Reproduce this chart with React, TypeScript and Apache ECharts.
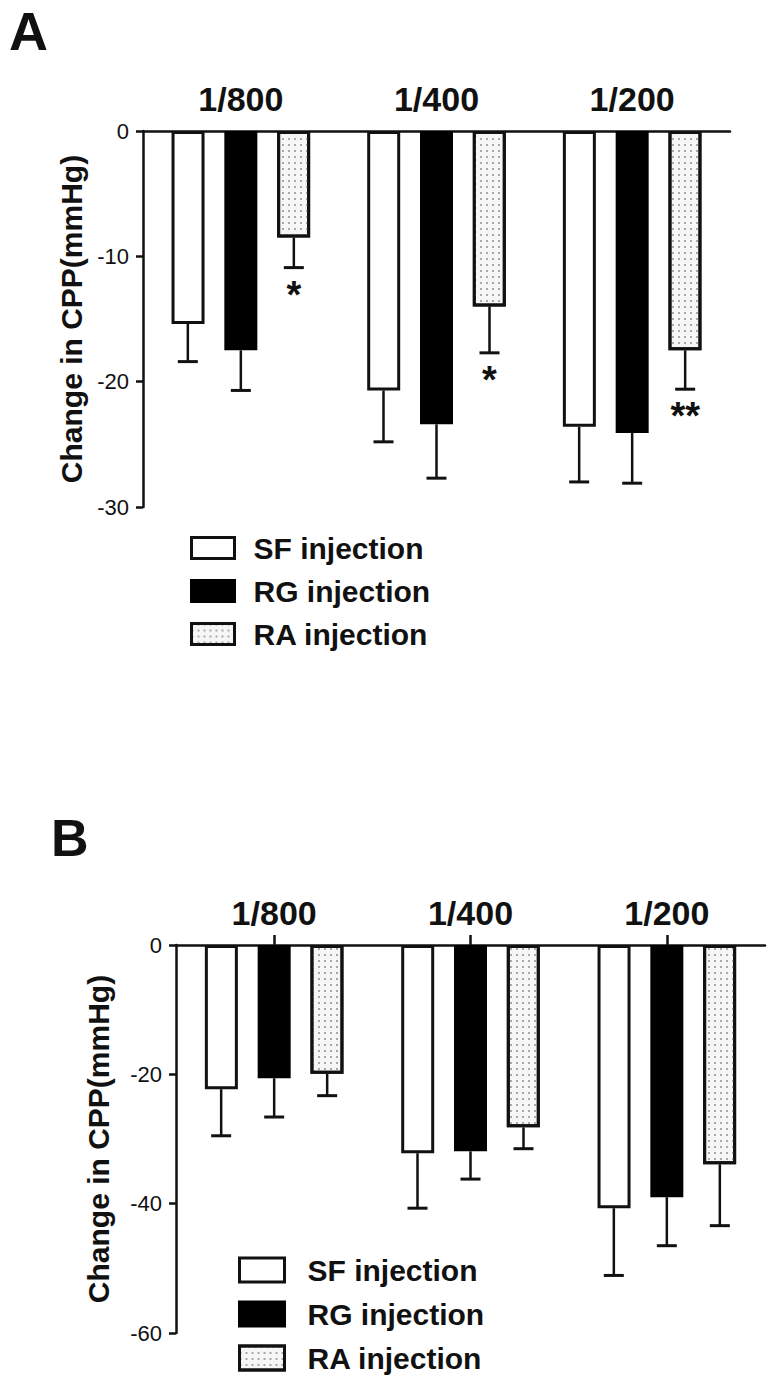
import React, { useEffect, useRef } from "react";
import * as echarts from "echarts";

const categories = ["1/800", "1/400", "1/200"];
const seriesNames = ["SF injection", "RG injection", "RA injection"];

// Panel A (y range -30..0)
const aSF = [-15.4, -20.7, -23.6];
const aSFErr = [3.0, 4.1, 4.4];
const aRG = [-17.5, -23.4, -24.1];
const aRGErr = [3.2, 4.3, 4.0];
const aRA = [-8.5, -14.0, -17.5];
const aRAErr = [2.4, 3.7, 3.1];
const aRASig = ["*", "*", "**"];

// Panel B (y range -60..0)
const bSF = [-22.3, -32.2, -40.7];
const bSFErr = [7.2, 8.5, 10.4];
const bRG = [-20.6, -31.9, -39.0];
const bRGErr = [6.0, 4.3, 7.5];
const bRA = [-19.9, -28.2, -33.9];
const bRAErr = [3.4, 3.3, 9.5];
const bRASig = ["", "", ""];

const yLabel = "Change in CPP(mmHg)";
const FONT = "'Liberation Sans', Arial, Helvetica, sans-serif";
const INK = "#111";

const decal = {
  symbol: "rect",
  symbolSize: 1,
  dashArrayX: [2, 4],
  dashArrayY: [2, 4],
  color: "#a8a8a8",
  rotation: 0,
};

const barStyles = [
  { color: "#ffffff", borderColor: INK, borderWidth: 3 },
  { color: "#000000", borderColor: "#000", borderWidth: 3 },
  { color: "#f6f6f6", borderColor: INK, borderWidth: 3, decal },
];

const BAR_W = 33;
const BAR_STEP = 53;

function errSeries(
  name: string,
  means: number[],
  errs: number[],
  sig: string[],
  idx: number,
  axisIdx: number
) {
  const offset = (idx - 1) * BAR_STEP;
  return {
    type: "custom",
    name: name + " err",
    xAxisIndex: axisIdx,
    yAxisIndex: axisIdx,
    z: 5,
    silent: true,
    data: means.map((m, i) => [i, m, errs[i], sig[i] || ""]),
    renderItem: (params: any, api: any) => {
      const ci = api.value(0);
      const m = api.value(1);
      const e = api.value(2);
      const s = sig[ci] || "";
      const p0 = api.coord([ci, m]);
      const p1 = api.coord([ci, m - e]);
      const cx = p0[0] + offset;
      const children: any[] = [
        {
          type: "line",
          shape: { x1: cx, y1: p0[1], x2: cx, y2: p1[1] },
          style: { stroke: INK, lineWidth: 2.5 },
        },
        {
          type: "line",
          shape: { x1: cx - 10, y1: p1[1], x2: cx + 10, y2: p1[1] },
          style: { stroke: INK, lineWidth: 3 },
        },
      ];
      if (s) {
        children.push({
          type: "text",
          x: cx,
          y: p1[1] + 8,
          style: {
            text: s,
            fill: INK,
            font: `bold 38px ${FONT}`,
            textAlign: "center",
            textVerticalAlign: "top",
          },
        });
      }
      return { type: "group", children };
    },
  };
}

function barSeries(name: string, data: number[], idx: number, axisIdx: number) {
  return {
    type: "bar",
    name,
    xAxisIndex: axisIdx,
    yAxisIndex: axisIdx,
    data,
    barWidth: BAR_W,
    barGap: "60%",
    itemStyle: barStyles[idx],
    z: 2,
  };
}

function xAxisDef(gridIndex: number, showTick: boolean) {
  return {
    type: "category",
    gridIndex,
    data: categories,
    position: "top",
    axisLine: { show: true, onZero: false, lineStyle: { color: INK, width: 2.5 } },
    axisTick: { show: showTick, alignWithLabel: true, length: 10, lineStyle: { color: INK, width: 2.5 } },
    axisLabel: {
      color: INK,
      fontSize: 34,
      fontWeight: "bold",
      fontFamily: FONT,
      margin: 15,
    },
    splitLine: { show: false },
  };
}

function yAxisDef(gridIndex: number, min: number, interval: number, nameGap: number) {
  return {
    type: "value",
    gridIndex,
    min,
    max: 0,
    interval,
    name: yLabel,
    nameLocation: "middle",
    nameGap,
    nameTextStyle: { color: INK, fontSize: 30, fontWeight: "bold", fontFamily: FONT },
    axisLine: { show: true, lineStyle: { color: INK, width: 2.5 } },
    axisTick: { show: true, length: 7, lineStyle: { color: INK, width: 2.5 } },
    axisLabel: { color: INK, fontSize: 22, fontFamily: FONT, margin: 14 },
    splitLine: { show: false },
  };
}

function legendDef(left: number, top: number, gap: number, iw: number, ih: number, pad: number) {
  return {
    orient: "vertical",
    left,
    top,
    itemWidth: iw,
    itemHeight: ih,
    itemGap: gap,
    selectedMode: false,
    icon: "rect",
    textStyle: {
      color: INK,
      fontSize: 30,
      fontWeight: "bold",
      fontFamily: FONT,
      lineHeight: 30,
      padding: [0, 0, 0, pad],
    },
    data: seriesNames.map((n, i) => ({ name: n, itemStyle: barStyles[i] })),
  };
}

export default function App() {
  const ref = useRef<HTMLDivElement>(null);
  useEffect(() => {
    if (!ref.current) return;
    const chart = echarts.init(ref.current, null, { renderer: "svg" });
    const option: any = {
      animation: false,
      backgroundColor: "#ffffff",
      textStyle: { fontFamily: FONT },
      graphic: [
        {
          type: "text",
          left: 9,
          top: 4,
          style: { text: "A", fill: INK, font: `bold 54px ${FONT}`, lineHeight: 44 },
        },
        {
          type: "text",
          left: 51,
          top: 812,
          style: { text: "B", fill: INK, font: `bold 52px ${FONT}`, lineHeight: 42 },
        },
      ],
      legend: [legendDef(185, 528, 13, 43, 21, 14), legendDef(233, 1250, 14, 45, 24, 18)],
      grid: [
        { left: 143, top: 131, width: 587, height: 376, containLabel: false },
        { left: 176, top: 945, width: 589, height: 388, containLabel: false },
      ],
      xAxis: [xAxisDef(0, false), xAxisDef(1, true)],
      yAxis: [yAxisDef(0, -30, 10, 56), yAxisDef(1, -60, 20, 63)],
      series: [
        barSeries(seriesNames[0], aSF, 0, 0),
        barSeries(seriesNames[1], aRG, 1, 0),
        barSeries(seriesNames[2], aRA, 2, 0),
        errSeries(seriesNames[0], aSF, aSFErr, ["", "", ""], 0, 0),
        errSeries(seriesNames[1], aRG, aRGErr, ["", "", ""], 1, 0),
        errSeries(seriesNames[2], aRA, aRAErr, aRASig, 2, 0),
        barSeries(seriesNames[0], bSF, 0, 1),
        barSeries(seriesNames[1], bRG, 1, 1),
        barSeries(seriesNames[2], bRA, 2, 1),
        errSeries(seriesNames[0], bSF, bSFErr, ["", "", ""], 0, 1),
        errSeries(seriesNames[1], bRG, bRGErr, ["", "", ""], 1, 1),
        errSeries(seriesNames[2], bRA, bRAErr, bRASig, 2, 1),
      ],
    };
    chart.setOption(option);
    return () => chart.dispose();
  }, []);
  return (
    <div
      ref={ref}
      style={{ position: "absolute", left: 0, top: 0, width: 771, height: 1384, background: "#fff" }}
    />
  );
}
